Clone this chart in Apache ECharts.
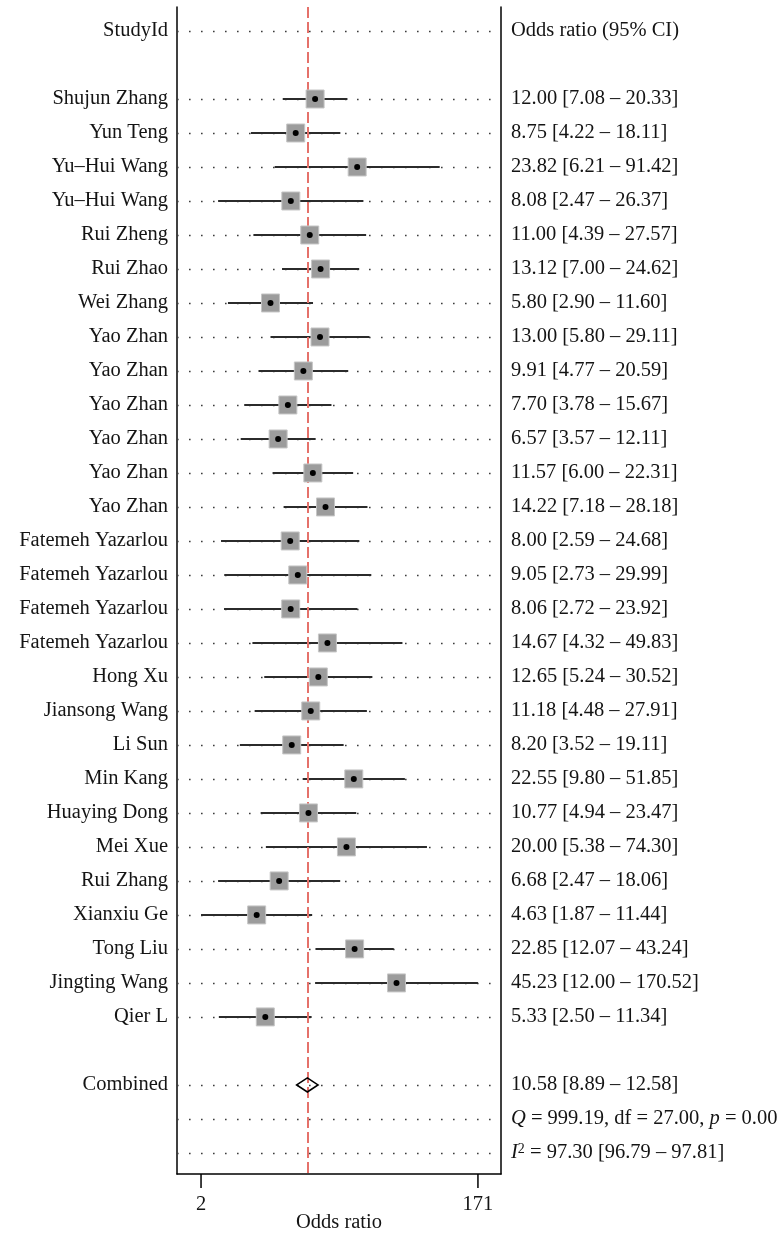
<!DOCTYPE html>
<html>
<head>
<meta charset="utf-8">
<script src="https://cdn.jsdelivr.net/npm/echarts@6/dist/echarts.min.js"></script>
<style>
  html, body { margin: 0; padding: 0; background: #ffffff; }
  #chart { width: 780px; height: 1235px; }
</style>
</head>
<body>
<div id="chart"></div>
<script>
// Individual studies: odds ratio with 95% confidence interval
const studyNames = [
  'Shujun Zhang', 'Yun Teng', 'Yu\u2013Hui Wang', 'Yu\u2013Hui Wang', 'Rui Zheng', 'Rui Zhao',
  'Wei Zhang', 'Yao Zhan', 'Yao Zhan', 'Yao Zhan', 'Yao Zhan', 'Yao Zhan', 'Yao Zhan',
  'Fatemeh Yazarlou', 'Fatemeh Yazarlou', 'Fatemeh Yazarlou', 'Fatemeh Yazarlou',
  'Hong Xu', 'Jiansong Wang', 'Li Sun', 'Min Kang', 'Huaying Dong', 'Mei Xue',
  'Rui Zhang', 'Xianxiu Ge', 'Tong Liu', 'Jingting Wang', 'Qier L'
];
const oddsRatios = [
  12.00, 8.75, 23.82, 8.08, 11.00, 13.12, 5.80, 13.00, 9.91, 7.70, 6.57, 11.57, 14.22,
  8.00, 9.05, 8.06, 14.67, 12.65, 11.18, 8.20, 22.55, 10.77, 20.00, 6.68, 4.63, 22.85, 45.23, 5.33
];
const ciLower = [
  7.08, 4.22, 6.21, 2.47, 4.39, 7.00, 2.90, 5.80, 4.77, 3.78, 3.57, 6.00, 7.18,
  2.59, 2.73, 2.72, 4.32, 5.24, 4.48, 3.52, 9.80, 4.94, 5.38, 2.47, 1.87, 12.07, 12.00, 2.50
];
const ciUpper = [
  20.33, 18.11, 91.42, 26.37, 27.57, 24.62, 11.60, 29.11, 20.59, 15.67, 12.11, 22.31, 28.18,
  24.68, 29.99, 23.92, 49.83, 30.52, 27.91, 19.11, 51.85, 23.47, 74.30, 18.06, 11.44, 43.24, 170.52, 11.34
];

// Pooled estimate and heterogeneity statistics
const pooledOR = 10.58;
const pooledLower = 8.89;
const pooledUpper = 12.58;
const heterogeneityQ = '999.19';
const heterogeneityDf = '27.00';
const heterogeneityP = '0.00';
const i2Value = '97.30';
const i2Lower = '96.79';
const i2Upper = '97.81';

// Axis ticks sit at the extreme CI bounds, labelled with rounded values
const tickValues = [1.87, 170.52];
const tickLabels = ['2', '171'];

const headerLeft = 'StudyId';
const headerRight = 'Odds ratio (95% CI)';
const pooledLabel = 'Combined';
const axisTitle = 'Odds ratio';

// ---- row layout ----
const HEADER_ROW = 0;
const FIRST_STUDY_ROW = 2;
const POOLED_ROW = FIRST_STUDY_ROW + studyNames.length + 1;
const Q_ROW = POOLED_ROW + 1;
const I2_ROW = POOLED_ROW + 2;

const FONT_FAMILY = '"Liberation Serif", "DejaVu Serif", serif';
const FONT_SIZE = 20.5;
const TEXT_COLOR = '#141414';
const fmt = v => v.toFixed(2);

const studyRows = studyNames.map((_, i) => FIRST_STUDY_ROW + i);

const textRows = [
  { row: HEADER_ROW, left: headerLeft, right: headerRight },
  ...studyNames.map((name, i) => ({
    row: studyRows[i],
    left: name,
    right: fmt(oddsRatios[i]) + ' [' + fmt(ciLower[i]) + ' \u2013 ' + fmt(ciUpper[i]) + ']'
  })),
  { row: POOLED_ROW, left: pooledLabel, right: fmt(pooledOR) + ' [' + fmt(pooledLower) + ' \u2013 ' + fmt(pooledUpper) + ']' },
  { row: Q_ROW, left: '', right: '{i|Q} = ' + heterogeneityQ + ', df = ' + heterogeneityDf + ', {i|p} = ' + heterogeneityP },
  { row: I2_ROW, left: '', right: '{i|I}{sup|2} = ' + i2Value + ' [' + i2Lower + ' \u2013 ' + i2Upper + ']' }
];

const dottedRows = [HEADER_ROW, ...studyRows, POOLED_ROW, Q_ROW, I2_ROW];

const richStyles = {
  i: { fontStyle: 'italic', fontSize: FONT_SIZE, fontFamily: FONT_FAMILY, fill: TEXT_COLOR, color: TEXT_COLOR },
  sup: { fontSize: 14, fontFamily: FONT_FAMILY, verticalAlign: 'top', fill: TEXT_COLOR, color: TEXT_COLOR }
};

const chart = echarts.init(document.getElementById('chart'), null, { renderer: 'canvas' });

const option = {
  animation: false,
  backgroundColor: '#ffffff',
  grid: { left: 177, right: 279, top: 7, bottom: 61, outerBoundsMode: 'none', containLabel: false },
  xAxis: {
    type: 'log',
    min: 1.264,
    max: 248.3,
    axisLine: { show: true, onZero: false, lineStyle: { color: '#000', width: 1.5 } },
    axisTick: { show: false },
    axisLabel: { show: false },
    splitLine: { show: false },
    minorTick: { show: false },
    name: axisTitle,
    nameLocation: 'middle',
    nameGap: 38,
    nameTextStyle: { fontFamily: FONT_FAMILY, fontSize: FONT_SIZE, color: TEXT_COLOR }
  },
  yAxis: [
    {
      type: 'value', inverse: true, min: -0.706, max: 33.62, position: 'left',
      axisLine: { show: true, onZero: false, lineStyle: { color: '#000', width: 1.5 } },
      axisTick: { show: false }, axisLabel: { show: false }, splitLine: { show: false }
    },
    {
      type: 'value', inverse: true, min: -0.706, max: 33.62, position: 'right',
      axisLine: { show: true, onZero: false, lineStyle: { color: '#000', width: 1.5 } },
      axisTick: { show: false }, axisLabel: { show: false }, splitLine: { show: false }
    }
  ],
  series: [
    // dotted guide line across each labelled row
    {
      type: 'custom',
      z: 1,
      silent: true,
      data: dottedRows.map(r => [tickValues[0], r]),
      renderItem: (params, api) => {
        const cs = params.coordSys;
        const y = Math.round(api.coord([api.value(0), api.value(1)])[1]) + 0.5;
        return {
          type: 'line',
          shape: { x1: cs.x, y1: y, x2: cs.x + cs.width - 8, y2: y },
          style: { stroke: '#3c3c3c', lineWidth: 1.6, lineDash: [1.6, 10.4] }
        };
      }
    },
    // confidence interval whiskers
    {
      type: 'custom',
      z: 2,
      silent: true,
      data: studyRows.map((r, i) => [ciLower[i], ciUpper[i], r]),
      encode: { x: [0, 1], y: 2 },
      renderItem: (params, api) => {
        const p1 = api.coord([api.value(0), api.value(2)]);
        const p2 = api.coord([api.value(1), api.value(2)]);
        return {
          type: 'line',
          shape: { x1: p1[0], y1: p1[1], x2: p2[0], y2: p2[1] },
          style: { stroke: '#2b2b2b', lineWidth: 2 }
        };
      },
      markLine: {
        silent: true,
        symbol: ['none', 'none'],
        label: { show: false },
        z: 3,
        lineStyle: { color: '#e5716a', width: 2, type: [11, 4] },
        data: [{ xAxis: pooledOR }]
      }
    },
    // study point estimates
    {
      type: 'scatter',
      z: 4,
      silent: true,
      symbol: 'rect',
      symbolSize: 18,
      itemStyle: { color: '#9c9c9c', borderColor: '#c6c6c6', borderWidth: 1, opacity: 1 },
      data: studyRows.map((r, i) => [oddsRatios[i], r])
    },
    {
      type: 'scatter',
      z: 5,
      silent: true,
      symbol: 'circle',
      symbolSize: 6,
      itemStyle: { color: '#000', opacity: 1 },
      data: studyRows.map((r, i) => [oddsRatios[i], r])
    },
    // pooled estimate diamond
    {
      type: 'custom',
      z: 5,
      silent: true,
      data: [[pooledLower, pooledUpper, pooledOR, POOLED_ROW]],
      encode: { x: [0, 1, 2], y: 3 },
      renderItem: (params, api) => {
        const row = api.value(3);
        const l = api.coord([api.value(0), row]);
        const r = api.coord([api.value(1), row]);
        const c = api.coord([api.value(2), row]);
        const h = 7;
        return {
          type: 'polygon',
          shape: { points: [[l[0], c[1]], [c[0], c[1] - h], [r[0], c[1]], [c[0], c[1] + h]] },
          style: { fill: 'none', stroke: '#000', lineWidth: 1.6 }
        };
      }
    },
    // row labels on both sides of the plot
    {
      type: 'custom',
      z: 6,
      silent: true,
      data: textRows.map(t => [tickValues[0], t.row]),
      renderItem: (params, api) => {
        const t = textRows[params.dataIndex];
        const cs = params.coordSys;
        const y = api.coord([api.value(0), api.value(1)])[1];
        const children = [];
        if (t.left) {
          children.push({
            type: 'text',
            style: {
              text: t.left, x: cs.x - 9, y: y, align: 'right', verticalAlign: 'middle',
              fontFamily: FONT_FAMILY, fontSize: FONT_SIZE, fill: TEXT_COLOR
            }
          });
        }
        if (t.right) {
          children.push({
            type: 'text',
            style: {
              text: t.right, rich: richStyles, x: cs.x + cs.width + 10, y: y,
              align: 'left', verticalAlign: 'middle',
              fontFamily: FONT_FAMILY, fontSize: FONT_SIZE, fill: TEXT_COLOR
            }
          });
        }
        return { type: 'group', children: children };
      }
    },
    // x-axis ticks at the extreme interval bounds
    {
      type: 'custom',
      z: 6,
      silent: true,
      data: tickValues.map(v => [v, 0]),
      renderItem: (params, api) => {
        const cs = params.coordSys;
        const x = api.coord([api.value(0), 0])[0];
        const yb = cs.y + cs.height;
        return {
          type: 'group',
          children: [
            { type: 'line', shape: { x1: x, y1: yb, x2: x, y2: yb + 14 }, style: { stroke: '#000', lineWidth: 1.5 } },
            {
              type: 'text',
              style: {
                text: tickLabels[params.dataIndex], x: x, y: yb + 31, align: 'center', verticalAlign: 'middle',
                fontFamily: FONT_FAMILY, fontSize: FONT_SIZE, fill: TEXT_COLOR
              }
            }
          ]
        };
      }
    }
  ]
};

chart.setOption(option);
</script>
</body>
</html>
